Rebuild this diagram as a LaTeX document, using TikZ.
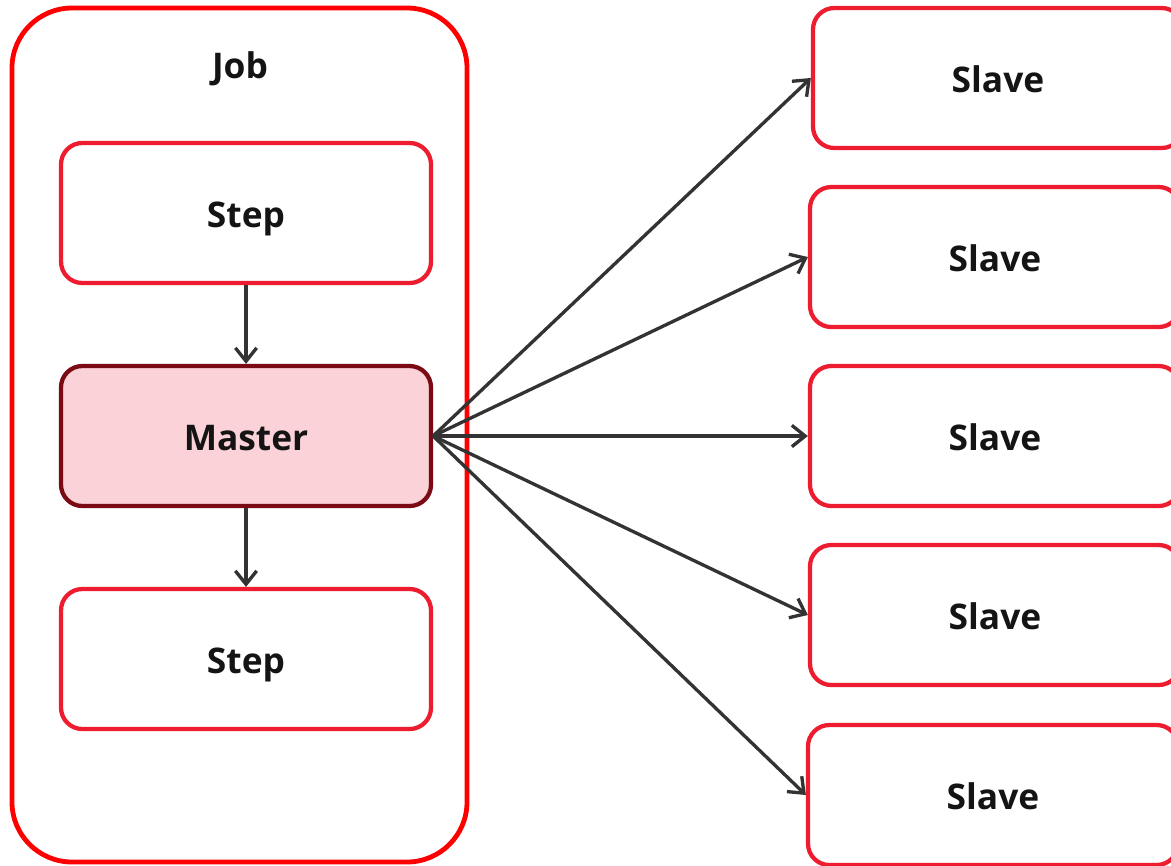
\documentclass[tikz,border=0pt]{standalone}
\usepackage{fontspec}
\setmainfont{Open Sans}
\usetikzlibrary{arrows.meta}
\definecolor{jobred}{RGB}{255,0,0}
\definecolor{boxred}{RGB}{237,28,46}
\definecolor{masterline}{RGB}{122,10,20}
\definecolor{masterfill}{RGB}{250,210,215}
\definecolor{arrowgray}{RGB}{51,51,51}
\tikzset{
  label text/.style={font=\fontsize{26.5}{30}\selectfont\bfseries, text=black!92,
    text height=21pt, text depth=0pt},
  box/.style={label text, draw=boxred, line width=3.2pt, rounded corners=16pt, fill=white,
    minimum width=277.5pt, minimum height=105pt, inner sep=0pt},
  masterbox/.style={box, draw=masterline, fill=masterfill},
  link/.style={draw=arrowgray, line width=2.5pt,
    -{Straight Barb[length=10pt, width=16pt, line width=2.5pt]}},
}
\begin{document}
\begin{tikzpicture}[x=0.75pt, y=-0.75pt]
  \useasboundingbox (0,0) rectangle (1171,865);
  \clip (0,0) rectangle (1171,865);
  % job container
  \draw[jobred, line width=3.6pt, rounded corners=45pt] (12,8) rectangle (467,862);
  \node[label text] (jobtitle) at (240,64) {Job};
  % steps inside the job
  \node[box] (step1) at (246,213) {Step};
  \node[masterbox] (master) at (246,436) {Master};
  \node[box] (step2) at (246,659) {Step};
  % slaves
  \node[box] (s1) at (998,78) {Slave};
  \node[box] (s2) at (995,257) {Slave};
  \node[box] (s3) at (995,436) {Slave};
  \node[box] (s4) at (995,615) {Slave};
  \node[box] (s5) at (993,795) {Slave};
  % connectors
  \draw[link] (step1) -- (master);
  \draw[link] (master) -- (step2);
  \foreach \s in {s1,s2,s3,s4,s5}
    \draw[link] (master.east) -- (\s.west);
\end{tikzpicture}
\end{document}
